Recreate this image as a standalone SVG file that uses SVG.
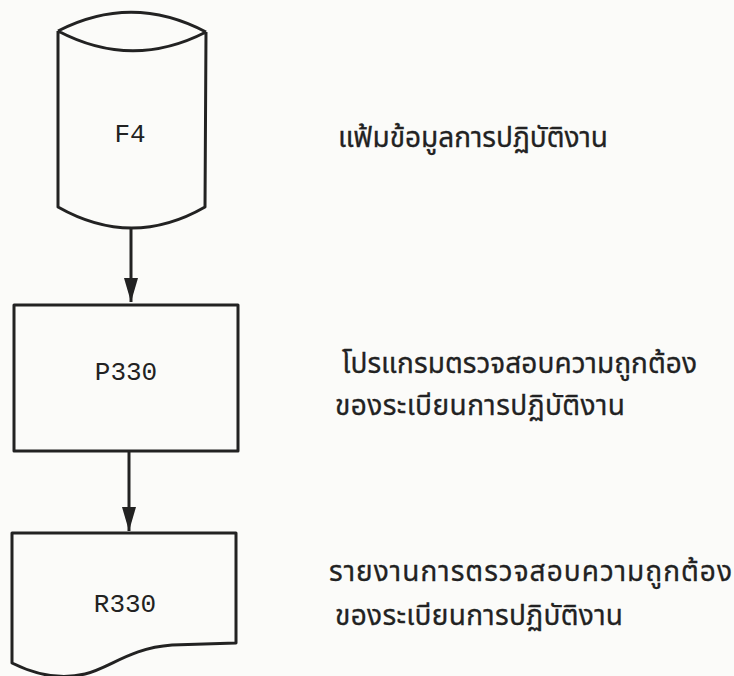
<svg xmlns="http://www.w3.org/2000/svg" width="734" height="676" viewBox="0 0 734 676">
<defs>
<style>
.shape{fill:none;stroke:#222;stroke-width:3;stroke-linejoin:round}
.code{font-family:"Liberation Mono","Courier New",monospace;font-size:26px;fill:#222;text-anchor:middle}
.th{font-family:"Noto Sans Thai","Noto Sans","DejaVu Sans",sans-serif;font-size:28px;fill:#222;stroke:#222;stroke-width:0.3}
.line{stroke:#222;stroke-width:3;fill:none}
</style>
<marker id="arr" markerUnits="userSpaceOnUse" markerWidth="24" markerHeight="14" refX="24" refY="7" orient="auto" viewBox="0 0 24 14">
<path d="M0,0 L24,7 L0,14 Z" fill="#222"/>
</marker>
</defs>
<rect width="734" height="676" fill="#fbfbf9"/>
<g id="connectors">
<line class="line" x1="131" y1="228" x2="131" y2="302" marker-end="url(#arr)"/>
<line class="line" x1="129" y1="451" x2="129" y2="531" marker-end="url(#arr)"/>
</g>
<g id="F4">
<path class="shape" d="M58,31 Q132,-7 206,32 M58,31 Q132,70 206,32 M58,31 L58,207 Q132,249 205,207 L206,32"/>
<text class="code" x="130" y="142">F4</text>
</g>
<g id="P330">
<rect class="shape" x="14" y="305" width="224" height="146"/>
<text class="code" x="126" y="380">P330</text>
</g>
<g id="R330">
<path class="shape" d="M12,533 L236,533 L236,643 L172,645 C130,648 110,668 85,674 C55,681 30,672 12,663 Z"/>
<text class="code" x="125" y="612">R330</text>
</g>
<g id="labels">
<text class="th" x="338" y="147" textLength="270" lengthAdjust="spacing">แฟ้มข้อมูลการปฏิบัติงาน</text>
<text class="th" x="342" y="373" textLength="355" lengthAdjust="spacing">โปรแกรมตรวจสอบความถูกต้อง</text>
<text class="th" x="335" y="415" textLength="290" lengthAdjust="spacing">ของระเบียนการปฏิบัติงาน</text>
<text class="th" x="329" y="581" textLength="403" lengthAdjust="spacing">รายงานการตรวจสอบความถูกต้อง</text>
<text class="th" x="335" y="625" textLength="288" lengthAdjust="spacing">ของระเบียนการปฏิบัติงาน</text>
</g>
</svg>
